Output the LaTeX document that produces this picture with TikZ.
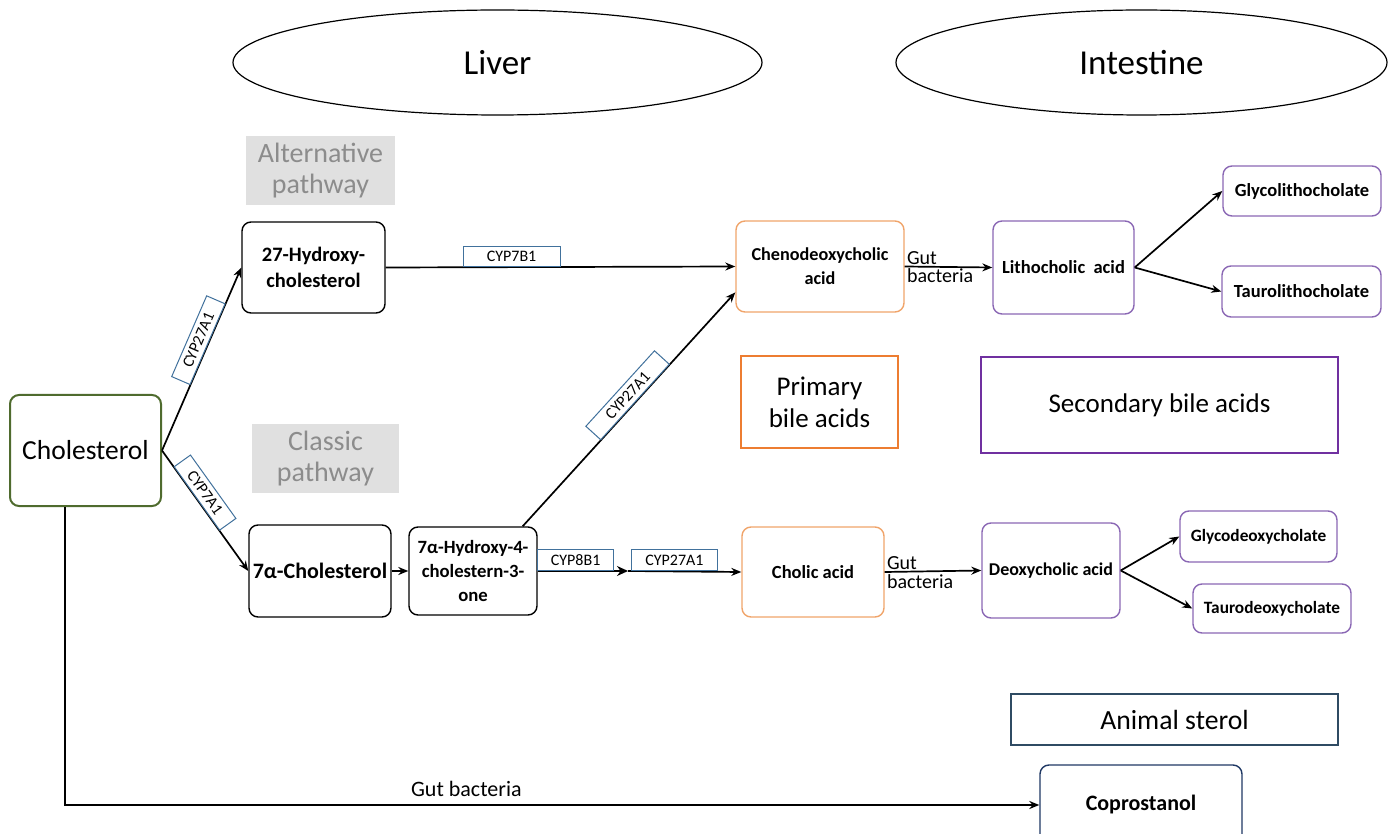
\documentclass[tikz,border=0pt]{standalone}
\usepackage{fontspec}
\setmainfont{Carlito}
\usetikzlibrary{arrows.meta, positioning, shapes.geometric}

\definecolor{cholGreen}{HTML}{4F6B2E}
\definecolor{primOrange}{HTML}{ED7D31}
\definecolor{lightOrange}{HTML}{F0A46A}
\definecolor{secPurple}{HTML}{7030A0}
\definecolor{lightPurple}{HTML}{8A67B4}
\definecolor{cypBlue}{HTML}{41719C}
\definecolor{sterolBlue}{HTML}{2F4B63}
\definecolor{coproBlue}{HTML}{1F3864}
\definecolor{pathFill}{HTML}{E0E0E0}
\definecolor{pathText}{HTML}{8C8C8C}

\newcommand{\fsz}[2]{\fontsize{#1}{#2}\selectfont}

\tikzset{
  chem/.style={draw, rounded corners=9pt, line width=1.4pt, align=center,
    inner sep=0pt, font=\bfseries\fsz{20.5}{26}},
  cyp/.style={draw=cypBlue, fill=white, line width=1pt, inner sep=0pt,
    minimum height=20pt, font=\fsz{16}{17}},
  organ/.style={ellipse, draw, line width=1.2pt, font=\fsz{35}{38}},
  pathlbl/.style={fill=pathFill, text=pathText, align=center, font=\fsz{28}{31}},
  group/.style={draw, line width=2.5pt, align=center, font=\fsz{27}{32}},
  gutlbl/.style={font=\fsz{20}{22}, inner sep=1.5pt},
}

\begin{document}
\begin{tikzpicture}[x=1pt, y=-1pt, >={Stealth[length=10pt,width=8pt]}, line width=1.7pt]
  \useasboundingbox (0,0) rectangle (1393,834);

  % organs
  \node[organ, minimum width=529pt, minimum height=105pt] (liver) at (497.5,62.5) {Liver};
  \node[organ, minimum width=491pt, minimum height=105pt] (gut) at (1141.5,62.5) {Intestine};

  % pathway tags
  \node[pathlbl, minimum width=149pt, minimum height=69pt] (altpw) at (320.5,170.5) {Alternative\\pathway};
  \node[pathlbl, minimum width=147pt, minimum height=69pt] (clspw) at (325.5,458.5) {Classic\\pathway};

  % liver side
  \node[chem, draw=cholGreen, line width=2pt, font=\fsz{27.5}{30}, minimum width=151pt, minimum height=111pt]
    (chol) at (85.5,450.5) {Cholesterol};
  \node[chem, minimum width=143pt, minimum height=91pt] (h27) at (313.5,267.5) {27-Hydroxy-\\cholesterol};
  \node[chem, font=\bfseries\fsz{22}{26}, minimum width=142pt, minimum height=92pt] (a7) at (320,571) {7α-Cholesterol};
  \node[chem, font=\bfseries\fsz{18.7}{24}, minimum width=128pt, minimum height=88pt]
    (hyd) at (473,571) {7α-Hydroxy-4-\\cholestern-3-\\one};

  % primary bile acids
  \node[chem, draw=lightOrange, font=\bfseries\fsz{18.2}{24}, minimum width=168pt, minimum height=91pt]
    (cheno) at (820,266.5) {Chenodeoxycholic\\acid};
  \node[chem, draw=lightOrange, font=\bfseries\fsz{18.5}{24}, minimum width=142pt, minimum height=90pt]
    (cholic) at (813,572) {Cholic acid};
  \node[group, draw=primOrange, minimum width=157pt, minimum height=92pt] (prim) at (819.5,402) {Primary\\bile acids};

  % secondary bile acids
  \node[chem, draw=lightPurple, font=\bfseries\fsz{18.5}{24}, minimum width=141pt, minimum height=93pt]
    (litho) at (1063.5,267.5) {Lithocholic\ \ acid};
  \node[chem, draw=lightPurple, font=\bfseries\fsz{18}{24}, minimum width=138pt, minimum height=95pt]
    (deoxy) at (1051,570.5) {Deoxycholic acid};
  \node[chem, draw=lightPurple, font=\bfseries\fsz{18.5}{20}, minimum width=158pt, minimum height=50pt]
    (glitho) at (1302,191) {Glycolithocholate};
  \node[chem, draw=lightPurple, font=\bfseries\fsz{18.5}{20}, minimum width=159pt, minimum height=51pt]
    (tlitho) at (1301.5,291.5) {Taurolithocholate};
  \node[chem, draw=lightPurple, font=\bfseries\fsz{17.3}{20}, minimum width=157pt, minimum height=51pt]
    (gdeoxy) at (1258.5,536.5) {Glycodeoxycholate};
  \node[chem, draw=lightPurple, font=\bfseries\fsz{17.3}{20}, minimum width=158pt, minimum height=49pt]
    (tdeoxy) at (1272,608.5) {Taurodeoxycholate};
  \node[group, draw=secPurple, minimum width=357pt, minimum height=96pt] (sec) at (1159.5,405) {Secondary bile acids};

  % sterol
  \node[group, draw=sterolBlue, line width=2pt, font=\fsz{27.7}{32}, minimum width=327pt, minimum height=51pt]
    (animal) at (1174.5,719.5) {Animal sterol};
  \node[chem, draw=coproBlue, font=\bfseries\fsz{22}{24}, minimum width=202pt, minimum height=80pt]
    (copro) at (1141,805) {Coprostanol};

  % liver arrows
  \draw[->] (chol.east) -- node[cyp, sloped, above, pos=0.58, minimum width=88pt] {CYP27A1} (h27.west);
  \draw[->] (chol.east) -- node[cyp, sloped, above, pos=0.4, minimum width=78pt] {CYP7A1} (a7.west);
  \draw[->] (a7.east) -- (hyd.west);
  \draw[->] (h27.east) -- node[cyp, above, pos=0.36, minimum width=97pt] {CYP7B1} (cheno.west);
  \draw[->] (hyd.42) -- node[cyp, sloped, above, pos=0.53, minimum width=102pt] {CYP27A1} (cheno.197);
  \coordinate (cypmid) at (628,571);
  \draw[-{Stealth[length=11pt,width=10pt]}] (hyd.east) -- node[cyp, above, pos=0.42, minimum width=76pt, minimum height=21pt] {CYP8B1} (cypmid);
  \draw[->] (cypmid) -- node[cyp, above, pos=0.41, minimum width=86pt, minimum height=21pt] {CYP27A1} (cholic.west);

  % intestine arrows
  \draw[->] (cheno.east) -- node[gutlbl, pos=0, above right] {Gut} node[gutlbl, pos=0, below right] {bacteria} (litho.west);
  \draw[->] (cholic.east) -- node[gutlbl, pos=0, above right] {Gut} node[gutlbl, pos=0, below right] {bacteria} (deoxy.west);
  \draw[->] (litho.east) -- (glitho.west);
  \draw[->] (litho.east) -- (tlitho.west);
  \draw[->] (deoxy.east) -- (gdeoxy.west);
  \draw[->] (deoxy.east) -- (tdeoxy.west);

  % cholesterol to coprostanol
  \draw[->] (chol.250) |- node[gutlbl, pos=0.706, above, inner sep=7pt, font=\fsz{22}{24}] {Gut bacteria} (copro.west);
\end{tikzpicture}
\end{document}
